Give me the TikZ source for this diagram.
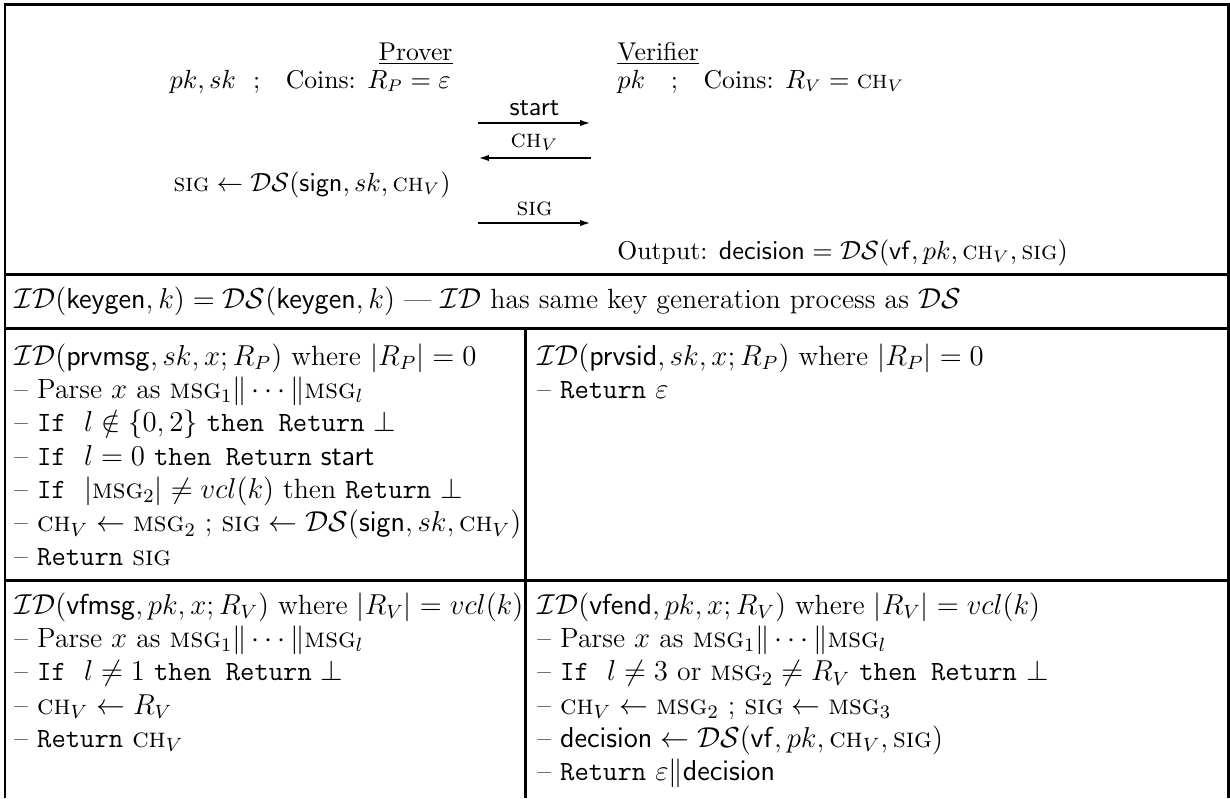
\documentclass[tikz,border=0pt]{standalone}
\usetikzlibrary{arrows.meta}

\newcommand{\msgsc}{\mbox{\textsc{msg}}}
\newcommand{\sigsc}{\mbox{\textsc{sig}}}
\newcommand{\chsc}{\mbox{\textsc{ch}}}

\begin{document}
\begin{tikzpicture}[
    x=0.4167pt, y=-0.4167pt,
    >={Latex[length=4.5pt,width=2.6pt]},
    font=\fontsize{11.6}{13.9}\selectfont,
    frame/.style={line width=1.25pt, draw=black},
    cell/.style={anchor=north west, inner sep=0pt, align=left,
        font=\fontsize{11.6}{13.9}\selectfont},
    party/.style={inner sep=0pt, font=\fontsize{10.7}{12.8}\selectfont},
    msg/.style={->, line width=0.85pt},
    lbl/.style={above, inner sep=2.5pt, font=\fontsize{10.7}{12.8}\selectfont},
]
\useasboundingbox (0,0) rectangle (1230,798);

\def\colL{14}
\def\colR{537}
\def\colP{451}
\def\colV{617}

% frame
\draw[frame] (5,798) -- (5,4) -- (1228,4) -- (1228,798);
\draw[frame] (5,274) -- (1228,274);
\draw[frame] (5,328) -- (1228,328);
\draw[frame] (5,580) -- (1228,580);
\draw[frame] (525,328) -- (525,798);

% protocol
\node[party, anchor=base east] (prv) at (453,60) {\underline{Prover}};
\node[party, anchor=base east] (prvkey) at (\colP,88) {$pk, sk$ \ ;\quad Coins: $R_P = \varepsilon$};
\node[party, anchor=base east] (prvsig) at (\colP,191) {$\sigsc \gets \mathcal{DS}(\mathsf{sign}, sk, \chsc_V)$};
\node[party, anchor=base west] (vf) at (\colV,60) {\underline{Verifier}};
\node[party, anchor=base west] (vfkey) at (\colV,88) {$pk$ \ \ ;\quad Coins: $R_V = \chsc_V$};
\node[party, anchor=base west] (vfout) at (\colV,259) {Output: $\mathsf{decision} = \mathcal{DS}(\mathsf{vf}, pk, \chsc_V, \sigsc)$};

\coordinate (a1) at (478,123);
\coordinate (b1) at (591,123);
\coordinate (a2) at (478,158);
\coordinate (b2) at (591,158);
\coordinate (a3) at (478,223);
\coordinate (b3) at (591,223);
\draw[msg] (a1) -- node[lbl] (m1) {$\mathsf{start}$} (b1);
\draw[msg] (b2) -- node[lbl] (m2) {$\chsc_V$} (a2);
\draw[msg] (a3) -- node[lbl] (m3) {$\sigsc$} (b3);

% key generation
\node[inner sep=0pt, anchor=base west] (kg) at (\colL,308) {$\mathcal{ID}(\mathsf{keygen}, k) = \mathcal{DS}(\mathsf{keygen}, k)$ --- $\mathcal{ID}$ has same key generation process as $\mathcal{DS}$};

% prover algorithms
\node[cell] (prvmsg) at (\colL,343) {
    $\mathcal{ID}(\mathsf{prvmsg}, sk, x; R_P)$ where $|R_P| = 0$\\
    -- Parse $x$ as $\msgsc_1 \| \cdots \| \msgsc_l$\\
    -- \texttt{If} $\ l \notin \{0,2\}$ \texttt{then Return} $\bot$\\
    -- \texttt{If} $\ l = 0$ \texttt{then Return} $\mathsf{start}$\\
    -- \texttt{If} $\ |\msgsc_2| \neq vcl(k)$ then \texttt{Return} $\bot$\\
    -- $\chsc_V \gets \msgsc_2$ ; $\sigsc \gets \mathcal{DS}(\mathsf{sign}, sk, \chsc_V)$\\
    -- \texttt{Return} $\sigsc$
};
\node[cell] (prvsid) at (\colR,343) {
    $\mathcal{ID}(\mathsf{prvsid}, sk, x; R_P)$ where $|R_P| = 0$\\
    -- \texttt{Return} $\varepsilon$
};

% verifier algorithms
\node[cell] (vfmsg) at (\colL,592) {
    $\mathcal{ID}(\mathsf{vfmsg}, pk, x; R_V)$ where $|R_V| = vcl(k)$\\
    -- Parse $x$ as $\msgsc_1 \| \cdots \| \msgsc_l$\\
    -- \texttt{If} $\ l \neq 1$ \texttt{then Return} $\bot$\\
    -- $\chsc_V \gets R_V$\\
    -- \texttt{Return} $\chsc_V$
};
\node[cell] (vfend) at (\colR,592) {
    $\mathcal{ID}(\mathsf{vfend}, pk, x; R_V)$ where $|R_V| = vcl(k)$\\
    -- Parse $x$ as $\msgsc_1 \| \cdots \| \msgsc_l$\\
    -- \texttt{If} $\ l \neq 3$ or $\msgsc_2 \neq R_V$ \texttt{then Return} $\bot$\\
    -- $\chsc_V \gets \msgsc_2$ ; $\sigsc \gets \msgsc_3$\\
    -- $\mathsf{decision} \gets \mathcal{DS}(\mathsf{vf}, pk, \chsc_V, \sigsc)$\\
    -- \texttt{Return} $\varepsilon \| \mathsf{decision}$
};

\end{tikzpicture}
\end{document}
